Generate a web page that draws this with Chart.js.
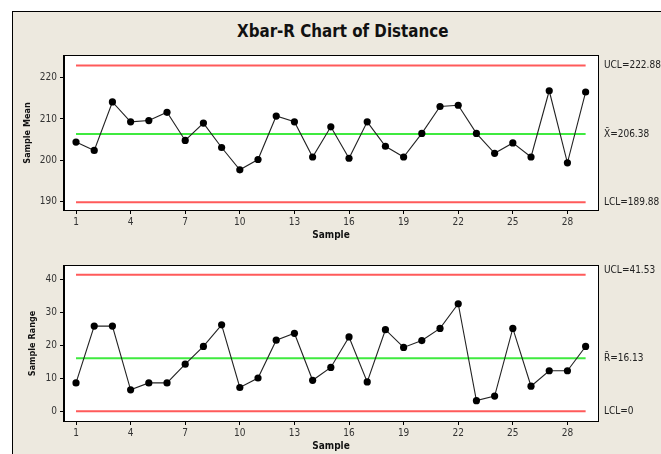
<!DOCTYPE html>
<html>
<head>
<meta charset="utf-8">
<script src="https://cdn.jsdelivr.net/npm/chart.js@4.4.1/dist/chart.umd.min.js"></script>
<style>
  html, body { margin: 0; padding: 0; width: 661px; height: 454px; overflow: hidden; background: #ffffff; }
  #frame { position: absolute; left: 12px; top: 11px; width: 720px; height: 520px;
           background: #EDE9DF; border: 1px solid #000; box-sizing: border-box; }
  #title { position: absolute; left: 237px; top: 20px; width: 200px; text-align: center; white-space: nowrap;
           font: bold 16.8px "DejaVu Sans Condensed", "DejaVu Sans", sans-serif; color: #111; line-height: 22px; }
  canvas { position: absolute; left: 0; top: 0; }
</style>
</head>
<body>
<div id="frame"></div>
<div id="title">Xbar-R Chart of Distance</div>
<canvas id="meanChart" width="661" height="454"></canvas>
<canvas id="rangeChart" width="661" height="454"></canvas>
<script>
// Subgroup numbers
const samples = [1,2,3,4,5,6,7,8,9,10,11,12,13,14,15,16,17,18,19,20,21,22,23,24,25,26,27,28,29];
// Subgroup means (Distance)
const meanValues = [204.4,202.4,214.1,209.3,209.6,211.6,204.8,209.0,203.1,197.7,200.2,210.7,209.3,200.8,
                    208.1,200.5,209.3,203.4,200.8,206.5,213.0,213.3,206.5,201.7,204.2,200.8,216.8,199.4,216.5];
// Subgroup ranges
const rangeValues = [8.6,25.9,25.9,6.5,8.6,8.6,14.3,19.7,26.3,7.2,10.1,21.6,23.7,9.4,
                     13.3,22.6,8.9,24.8,19.4,21.5,25.2,32.7,3.2,4.6,25.2,7.6,12.3,12.3,19.7];
// Control limits
const meanLimits = [222.88, 206.38, 189.88];   // UCL, centre, LCL
const rangeLimits = [41.53, 16.13, 0];          // UCL, centre, LCL
const meanLimitLabels = ['UCL=222.88', 'X\u0304=206.38', 'LCL=189.88'];
const rangeLimitLabels = ['UCL=41.53', 'R\u0304=16.13', 'LCL=0'];
// Tick labels
const sampleTicks = [1,4,7,10,13,16,19,22,25,28];
const meanTicks = [190,200,210,220];
const rangeTicks = [0,10,20,30,40];

const FONT = '"DejaVu Sans Condensed", "DejaVu Sans", sans-serif';
const RED = '#FF5A5A';
const GREEN = '#3FEA3F';

// white plot panel with a full black box around it
const panelPlugin = {
  id: 'panel',
  beforeDraw(chart) {
    const a = chart.chartArea, c = chart.ctx;
    c.save(); c.fillStyle = '#ffffff';
    c.fillRect(a.left, a.top, a.right - a.left, a.bottom - a.top);
    c.restore();
  },
  afterDraw(chart) {
    const a = chart.chartArea, c = chart.ctx;
    c.save(); c.strokeStyle = '#000'; c.lineWidth = 1;
    c.strokeRect(Math.round(a.left) - 0.5, Math.round(a.top) - 0.5,
                 Math.round(a.right - a.left) + 1, Math.round(a.bottom - a.top) + 1);
    c.restore();
  }
};

// limit captions to the right of the panel
const limitLabelPlugin = {
  id: 'limitLabels',
  afterDraw(chart, args, opts) {
    const c = chart.ctx, y = chart.scales.y;
    c.save();
    c.font = '10px ' + FONT;
    c.fillStyle = '#222';
    c.textBaseline = 'middle';
    opts.values.forEach((v, i) => {
      c.fillText(opts.labels[i], chart.chartArea.right + 6, y.getPixelForValue(v) + (opts.shift ? opts.shift[i] : 0));
    });
    c.restore();
  }
};

function limitLine(v, color) {
  return {
    type: 'line',
    data: [{x: samples[0], y: v}, {x: samples[samples.length - 1], y: v}],
    borderColor: color, borderWidth: 2, pointRadius: 0, fill: false, order: 2
  };
}

function makeChart(id, values, limits, labels, yTicks, yMin, yMax, yTitle, pad, shift) {
  return new Chart(document.getElementById(id), {
    type: 'line',
    data: {
      datasets: [
        limitLine(limits[0], RED),
        limitLine(limits[1], GREEN),
        limitLine(limits[2], RED),
        {
          data: samples.map((s, i) => ({x: s, y: values[i]})),
          borderColor: '#222', borderWidth: 1.1,
          pointRadius: 3.6, pointBackgroundColor: '#000', pointBorderColor: '#000',
          pointBorderWidth: 0, tension: 0, order: 1
        }
      ]
    },
    options: {
      responsive: false, animation: false,
      layout: { padding: pad },
      plugins: {
        legend: { display: false }, tooltip: { enabled: false }, title: { display: false },
        limitLabels: { values: limits, labels: labels, shift: shift }
      },
      scales: {
        x: {
          type: 'linear', min: 0.34, max: 29.68,
          afterBuildTicks(s) { s.ticks = sampleTicks.map(v => ({value: v})); },
          afterFit(s) { s.height = 31; },
          grid: { display: true, drawOnChartArea: false, drawTicks: true, tickLength: 4, color: '#000' },
          border: { display: true, color: '#000' },
          ticks: { color: '#333', font: { family: FONT, size: 10 }, padding: 2, maxRotation: 0 },
          title: { display: true, text: 'Sample', color: '#111', font: { family: FONT, size: 10, weight: 'bold' }, padding: 0 }
        },
        y: {
          min: yMin, max: yMax,
          afterBuildTicks(s) { s.ticks = yTicks.map(v => ({value: v})); },
          afterFit(s) { s.width = 64 - pad.left; },
          grid: { display: true, drawOnChartArea: false, drawTicks: true, tickLength: 4, color: '#000' },
          border: { display: true, color: '#000' },
          ticks: { color: '#333', font: { family: FONT, size: 10 }, padding: 3 },
          title: { display: true, text: yTitle, color: '#111', font: { family: FONT, size: 9, weight: 'bold' }, padding: 0 }
        }
      }
    },
    plugins: [panelPlugin, limitLabelPlugin]
  });
}

makeChart('meanChart', meanValues, meanLimits, meanLimitLabels, meanTicks, 188.0, 225.2,
          'Sample Mean', { left: 22, right: 63, top: 56, bottom: 213 }, [0, 0, 0]);
makeChart('rangeChart', rangeValues, rangeLimits, rangeLimitLabels, rangeTicks, -3.0, 44.2,
          'Sample Range', { left: 27, right: 63, top: 266, bottom: 2 }, [-4, 0, 0]);
</script>
</body>
</html>
